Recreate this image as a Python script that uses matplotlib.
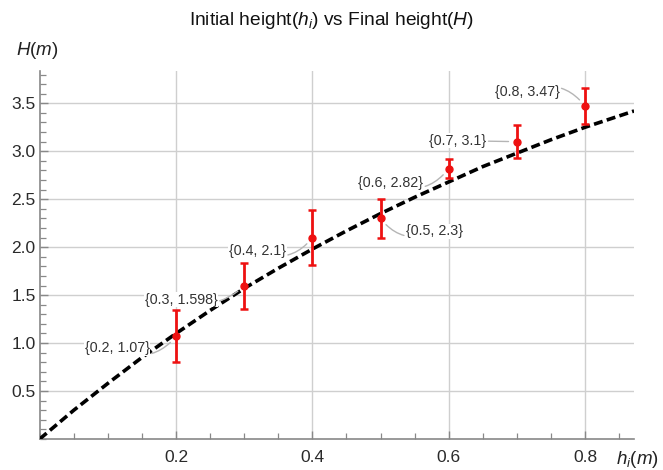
import numpy as np
import matplotlib
matplotlib.use("Agg")
import matplotlib.pyplot as plt
import matplotlib.ticker as ticker

plt.rcParams['font.family'] = ['Liberation Sans', 'DejaVu Sans']
plt.rcParams['mathtext.fontset'] = 'custom'
plt.rcParams['mathtext.rm'] = 'Liberation Sans'
plt.rcParams['mathtext.it'] = 'Liberation Sans:italic'

# measured points (initial height, final height) with error
h_init = [0.2, 0.3, 0.4, 0.5, 0.6, 0.7, 0.8]
h_final = [1.07, 1.598, 2.1, 2.3, 2.82, 3.1, 3.47]
h_err = [0.27, 0.24, 0.29, 0.2, 0.1, 0.17, 0.19]

# fitted curve
fit_x = [0.0, 0.05, 0.1, 0.15, 0.2, 0.25, 0.3, 0.35, 0.4, 0.45, 0.5, 0.55,
         0.6, 0.65, 0.7, 0.75, 0.8, 0.872]
fit_y = [0.0, 0.30, 0.58, 0.85, 1.10, 1.34, 1.57, 1.78, 1.98, 2.17, 2.35, 2.52,
         2.68, 2.84, 2.98, 3.12, 3.25, 3.42]

# label offsets (pixels) of the callouts
lbl_off = [(-59, -12), (-63, -14), (-55, -13), (54, -13), (-58, -14), (-59, 1), (-58, 14)]
lbl_rad = [0.4, 0.3, 0.4, -0.4, 0.4, 0.0, -0.4]

fig = plt.figure(figsize=(6.63, 4.70), dpi=100)
ax = fig.add_axes([0.0599, 0.066, 0.8965, 0.7836])

ax.plot(fit_x, fit_y, color='black', lw=2.6, dashes=(2.5, 1.2), zorder=3)
ax.errorbar(h_init, h_final, yerr=h_err, fmt='o', color='#ee1111', ms=5,
            elinewidth=2, capsize=3, capthick=1.8, zorder=4)

for x, y, off, rad in zip(h_init, h_final, lbl_off, lbl_rad):
    ax.annotate('{' + f'{x}, {y}' + '}', xy=(x, y), xytext=off,
                textcoords='offset pixels', ha='center', va='center',
                fontsize=10.3, color='#333333', zorder=5,
                bbox=dict(boxstyle='square,pad=0.05', fc='white', ec='none'),
                arrowprops=dict(arrowstyle='-', color='#b5b5b5', lw=1,
                                shrinkA=1, shrinkB=6,
                                connectionstyle=f'arc3,rad={rad}'))

ax.set_xlim(0, 0.872)
ax.set_ylim(0, 3.84)
ax.xaxis.set_major_locator(ticker.FixedLocator([0.2, 0.4, 0.6, 0.8]))
ax.xaxis.set_minor_locator(ticker.MultipleLocator(0.05))
ax.yaxis.set_major_locator(ticker.FixedLocator([0.5, 1.0, 1.5, 2.0, 2.5, 3.0, 3.5]))
ax.yaxis.set_minor_locator(ticker.MultipleLocator(0.1))
ax.xaxis.set_major_formatter(ticker.FormatStrFormatter('%.1f'))
ax.yaxis.set_major_formatter(ticker.FormatStrFormatter('%.1f'))

ax.grid(True, which='major', color='#cfcfcf', lw=1)
ax.set_axisbelow(True)
for s in ['top', 'right']:
    ax.spines[s].set_visible(False)
for s in ['left', 'bottom']:
    ax.spines[s].set_color('#888888')
    ax.spines[s].set_linewidth(1.2)
ax.tick_params(which='both', direction='in', color='#888888', labelcolor='#2a2a2a',
               labelsize=12.5)
ax.tick_params(which='major', length=6, width=1)
ax.tick_params(which='minor', length=4, width=0.9)
ax.tick_params(axis='x', which='major', pad=8)
ax.tick_params(axis='y', which='major', pad=3)

fig.text(0.024, 0.892, r'$H(m)$', fontsize=13.5, color='#222222', ha='left', va='center')
fig.text(0.961, 0.023, r'$h_i(m)$', fontsize=13.5, color='#222222', ha='center', va='center')
fig.text(0.5, 0.957, r'Initial height($h_i$) vs Final height($H$)', fontsize=13.8,
         color='#111111', ha='center', va='center')

fig.savefig('out.png', dpi=100)
